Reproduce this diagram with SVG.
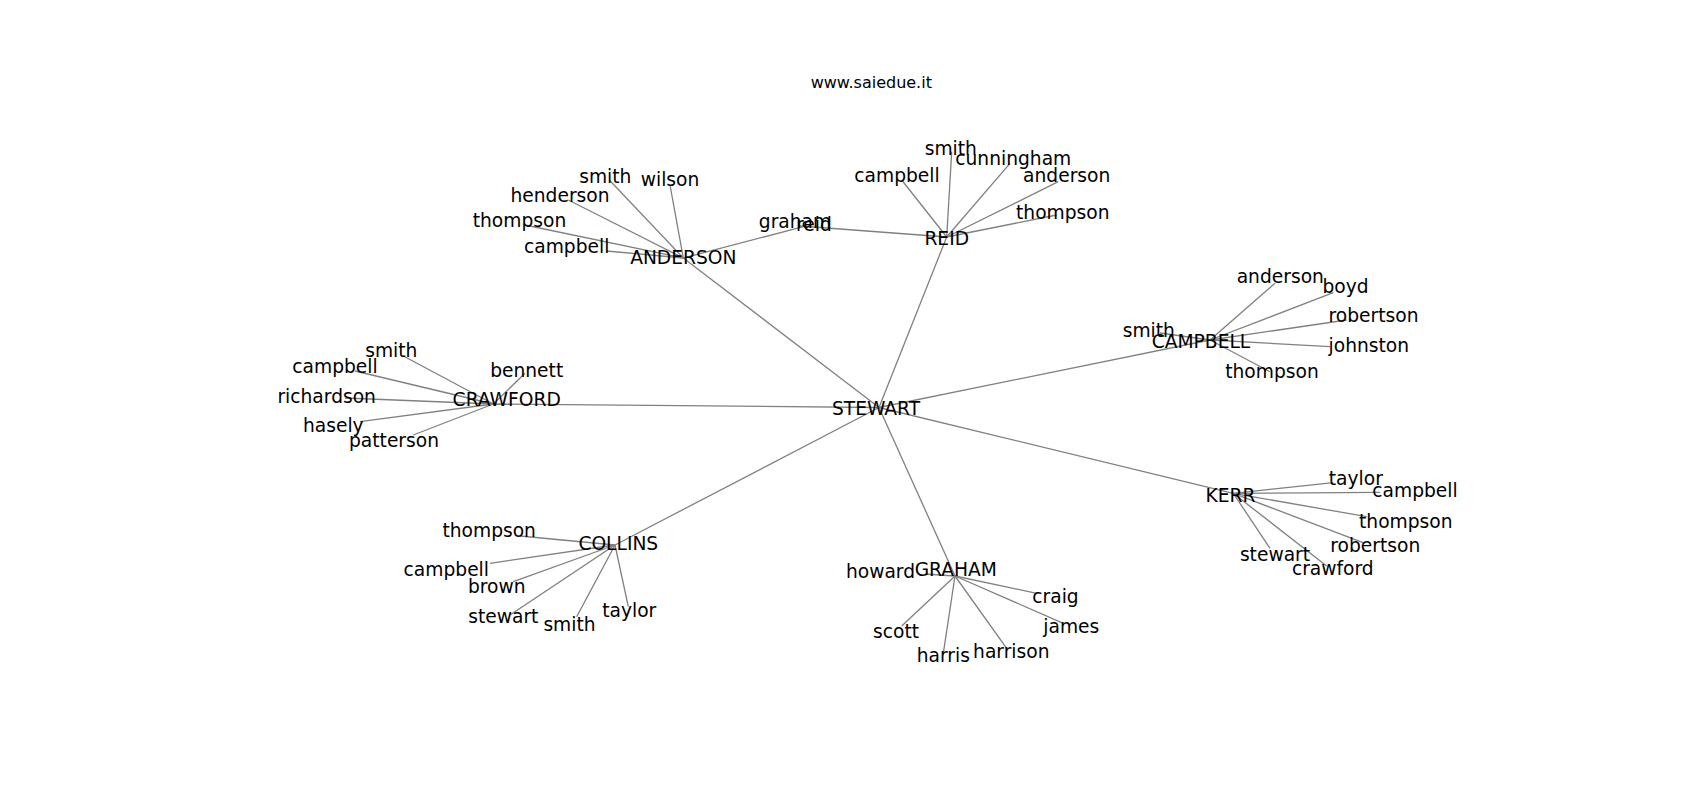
<svg xmlns="http://www.w3.org/2000/svg" width="1700" height="800" viewBox="0 0 1700 800">
<style>
.bg{fill:#ffffff}
.e{stroke:#808080;stroke-width:1.3;fill:none}
.t{font-family:"DejaVu Sans","Liberation Sans",sans-serif;font-size:18.67px;fill:#000;text-anchor:middle}
.title{font-family:"DejaVu Sans","Liberation Sans",sans-serif;font-size:16px;fill:#000;text-anchor:middle}
</style>
<rect class="bg" x="0" y="0" width="1700" height="800"/>
<text class="title" x="871.3" y="88">www.saiedue.it</text>
<g id="connectors">
<!-- STEWART hub -->
<line class="e" x1="879" y1="407.5" x2="946.7" y2="237"/>
<line class="e" x1="879" y1="407.5" x2="683.3" y2="258"/>
<line class="e" x1="879" y1="407.5" x2="493.3" y2="404"/>
<line class="e" x1="879" y1="407.5" x2="1210" y2="340"/>
<line class="e" x1="879" y1="407.5" x2="1233.3" y2="493.3"/>
<line class="e" x1="879" y1="407.5" x2="615" y2="545"/>
<line class="e" x1="879" y1="407.5" x2="955" y2="576"/>
<!-- ANDERSON -->
<line class="e" x1="683.3" y1="258" x2="609.3" y2="180"/>
<line class="e" x1="683.3" y1="258" x2="670" y2="185"/>
<line class="e" x1="683.3" y1="258" x2="568.3" y2="200"/>
<line class="e" x1="683.3" y1="258" x2="525" y2="225"/>
<line class="e" x1="683.3" y1="258" x2="606.7" y2="251"/>
<line class="e" x1="683.3" y1="258" x2="803.3" y2="226.7"/>
<!-- REID -->
<line class="e" x1="946.7" y1="237" x2="951.7" y2="151.7"/>
<line class="e" x1="946.7" y1="237" x2="1010" y2="163.3"/>
<line class="e" x1="946.7" y1="237" x2="901.7" y2="180"/>
<line class="e" x1="946.7" y1="237" x2="1058.3" y2="181.7"/>
<line class="e" x1="946.7" y1="237" x2="1056.7" y2="215"/>
<line class="e" x1="946.7" y1="237" x2="800" y2="226"/>
<!-- CAMPBELL -->
<line class="e" x1="1210" y1="340" x2="1275" y2="283.3"/>
<line class="e" x1="1210" y1="340" x2="1333.3" y2="292.7"/>
<line class="e" x1="1210" y1="340" x2="1346.7" y2="320"/>
<line class="e" x1="1210" y1="340" x2="1330" y2="346.7"/>
<line class="e" x1="1210" y1="340" x2="1270" y2="371.7"/>
<line class="e" x1="1210" y1="340" x2="1160" y2="333"/>
<!-- CRAWFORD -->
<line class="e" x1="493.3" y1="404" x2="403.3" y2="356"/>
<line class="e" x1="493.3" y1="404" x2="355" y2="371"/>
<line class="e" x1="493.3" y1="404" x2="345" y2="398"/>
<line class="e" x1="493.3" y1="404" x2="360" y2="421.7"/>
<line class="e" x1="493.3" y1="404" x2="413.3" y2="435"/>
<line class="e" x1="493.3" y1="404" x2="525" y2="373.3"/>
<!-- KERR -->
<line class="e" x1="1233.3" y1="493.3" x2="1333.3" y2="482.7"/>
<line class="e" x1="1233.3" y1="493.3" x2="1380" y2="492.3"/>
<line class="e" x1="1233.3" y1="493.3" x2="1366.7" y2="516.7"/>
<line class="e" x1="1233.3" y1="493.3" x2="1365" y2="543.3"/>
<line class="e" x1="1233.3" y1="493.3" x2="1270" y2="548.3"/>
<line class="e" x1="1233.3" y1="493.3" x2="1326.7" y2="566"/>
<!-- COLLINS -->
<line class="e" x1="615" y1="545" x2="520" y2="536"/>
<line class="e" x1="615" y1="545" x2="490" y2="563.3"/>
<line class="e" x1="615" y1="545" x2="513.3" y2="581.7"/>
<line class="e" x1="615" y1="545" x2="510" y2="615"/>
<line class="e" x1="615" y1="545" x2="576.7" y2="616.7"/>
<line class="e" x1="615" y1="545" x2="628.3" y2="606.7"/>
<!-- GRAHAM -->
<line class="e" x1="955" y1="576" x2="925" y2="574"/>
<line class="e" x1="955" y1="576" x2="1036.7" y2="593.3"/>
<line class="e" x1="955" y1="576" x2="1063.3" y2="623.3"/>
<line class="e" x1="955" y1="576" x2="901.7" y2="626"/>
<line class="e" x1="955" y1="576" x2="943.3" y2="653.3"/>
<line class="e" x1="955" y1="576" x2="1006.7" y2="648.3"/>
</g>
<g id="n-stewart"><text class="t" x="876" y="415">STEWART</text></g>
<g id="n-anderson"><text class="t" x="683.3" y="264">ANDERSON</text></g>
<g id="n-reid"><text class="t" x="946.7" y="245">REID</text></g>
<g id="n-campbell"><text class="t" x="1201" y="348.3">CAMPBELL</text></g>
<g id="n-crawford"><text class="t" x="506.7" y="406">CRAWFORD</text></g>
<g id="n-kerr"><text class="t" x="1230.5" y="502.3">KERR</text></g>
<g id="n-collins"><text class="t" x="618.3" y="550">COLLINS</text></g>
<g id="n-graham"><text class="t" x="955.8" y="576">GRAHAM</text></g>
<g id="a-smith"><text class="t" x="605.3" y="182.7">smith</text></g>
<g id="a-wilson"><text class="t" x="670" y="185.7">wilson</text></g>
<g id="a-henderson"><text class="t" x="560" y="201.7">henderson</text></g>
<g id="a-thompson"><text class="t" x="519.5" y="227.3">thompson</text></g>
<g id="a-campbell"><text class="t" x="566.7" y="252.7">campbell</text></g>
<g id="graham"><text class="t" x="795" y="228">graham</text></g>
<g id="reid"><text class="t" x="814" y="231">reid</text></g>
<g id="r-smith"><text class="t" x="950.8" y="155">smith</text></g>
<g id="r-cunningham"><text class="t" x="1013.3" y="164.5">cunningham</text></g>
<g id="r-campbell"><text class="t" x="897" y="181.7">campbell</text></g>
<g id="r-anderson"><text class="t" x="1066.7" y="181.7">anderson</text></g>
<g id="r-thompson"><text class="t" x="1062.8" y="219.3">thompson</text></g>
<g id="c-anderson"><text class="t" x="1280.3" y="283.3">anderson</text></g>
<g id="c-boyd"><text class="t" x="1345.5" y="292.7">boyd</text></g>
<g id="c-robertson"><text class="t" x="1373.5" y="321.7">robertson</text></g>
<g id="c-johnston"><text class="t" x="1368.8" y="351.7">johnston</text></g>
<g id="c-thompson"><text class="t" x="1272" y="378.3">thompson</text></g>
<g id="c-smith"><text class="t" x="1148.8" y="337.3">smith</text></g>
<g id="cr-smith"><text class="t" x="391.3" y="357.3">smith</text></g>
<g id="cr-campbell"><text class="t" x="335" y="373.3">campbell</text></g>
<g id="cr-bennett"><text class="t" x="526.7" y="376.7">bennett</text></g>
<g id="cr-richardson"><text class="t" x="326.7" y="403.3">richardson</text></g>
<g id="cr-hasely"><text class="t" x="333.3" y="431.7">hasely</text></g>
<g id="cr-patterson"><text class="t" x="394" y="446.7">patterson</text></g>
<g id="k-taylor"><text class="t" x="1355.8" y="485">taylor</text></g>
<g id="k-campbell"><text class="t" x="1415" y="497.3">campbell</text></g>
<g id="k-thompson"><text class="t" x="1405.8" y="528.3">thompson</text></g>
<g id="k-robertson"><text class="t" x="1375.3" y="551.7">robertson</text></g>
<g id="k-stewart"><text class="t" x="1275" y="560.7">stewart</text></g>
<g id="k-crawford"><text class="t" x="1332.8" y="575">crawford</text></g>
<g id="co-thompson"><text class="t" x="489.2" y="537.3">thompson</text></g>
<g id="co-campbell"><text class="t" x="446.3" y="575.7">campbell</text></g>
<g id="co-brown"><text class="t" x="496.7" y="593.3">brown</text></g>
<g id="co-stewart"><text class="t" x="503.3" y="623.3">stewart</text></g>
<g id="co-smith"><text class="t" x="569.5" y="630.7">smith</text></g>
<g id="co-taylor"><text class="t" x="629.2" y="616.7">taylor</text></g>
<g id="g-howard"><text class="t" x="880.5" y="578.3">howard</text></g>
<g id="g-craig"><text class="t" x="1055.5" y="603.3">craig</text></g>
<g id="g-james"><text class="t" x="1071.3" y="633.3">james</text></g>
<g id="g-scott"><text class="t" x="896" y="638.3">scott</text></g>
<g id="g-harris"><text class="t" x="943.3" y="661.7">harris</text></g>
<g id="g-harrison"><text class="t" x="1011.3" y="658.3">harrison</text></g>
</svg>
